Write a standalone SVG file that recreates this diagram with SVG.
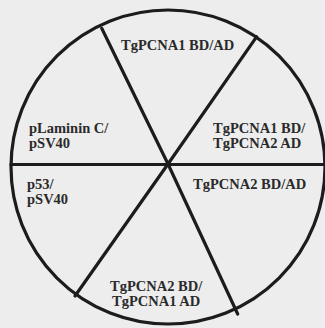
<svg xmlns="http://www.w3.org/2000/svg" width="325" height="328" viewBox="0 0 325 328">
<style>
.bg{fill:#ededed}
.ln{stroke:#1c1c1c;stroke-width:3.2;fill:none;stroke-linecap:round}
.t{font-family:"Liberation Serif","Times New Roman",serif;font-weight:bold;font-size:14.5px;fill:#2a2a2a}
</style>
<rect class="bg" width="325" height="328"/>
<g id="connectors">
<ellipse class="ln" cx="168" cy="167" rx="157" ry="157"/>
<line class="ln" x1="11" y1="164.5" x2="325" y2="164.5"/>
<line class="ln" x1="168" y1="164" x2="101.7" y2="28.3"/>
<line class="ln" x1="168" y1="164" x2="256.7" y2="36.7"/>
<line class="ln" x1="168" y1="164" x2="75" y2="296"/>
<line class="ln" x1="168" y1="164" x2="237.7" y2="314"/>
</g>
<g id="s1"><text class="t" x="121" y="50">TgPCNA1 BD/AD</text></g>
<g id="s2"><text class="t" x="213" y="133">TgPCNA1 BD/</text><text class="t" x="213" y="148">TgPCNA2 AD</text></g>
<g id="s3"><text class="t" x="193" y="189">TgPCNA2 BD/AD</text></g>
<g id="s4"><text class="t" x="110" y="291">TgPCNA2 BD/</text><text class="t" x="112" y="306">TgPCNA1 AD</text></g>
<g id="s5"><text class="t" x="27" y="189">p53/</text><text class="t" x="27" y="204">pSV40</text></g>
<g id="s6"><text class="t" x="29" y="133">pLaminin C/</text><text class="t" x="29" y="148">pSV40</text></g>
</svg>
